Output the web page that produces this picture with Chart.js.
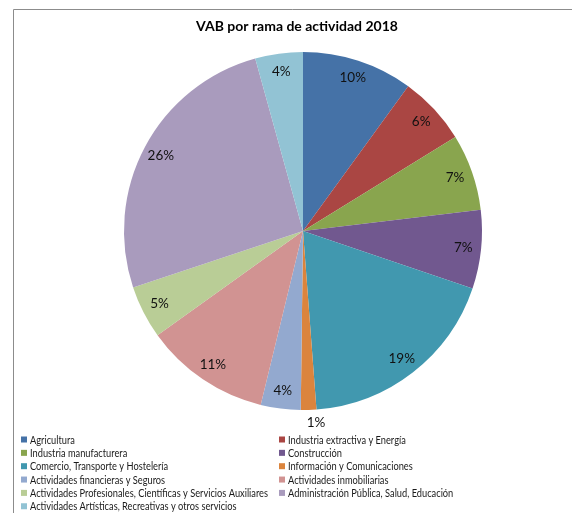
<!DOCTYPE html>
<html>
<head>
<meta charset="utf-8">
<script src="https://cdn.jsdelivr.net/npm/chart.js@4/dist/chart.umd.min.js"></script>
<style>
html,body{margin:0;padding:0;background:#fff;}
#wrap{width:572px;height:513px;position:relative;}
</style>
</head>
<body>
<div id="wrap"><canvas id="c" width="572" height="513"></canvas></div>
<script>
const title = 'VAB por rama de actividad 2018';
const categories = [
  'Agricultura',
  'Industria extractiva y Energía',
  'Industria manufacturera',
  'Construcción',
  'Comercio, Transporte y Hostelería',
  'Información y Comunicaciones',
  'Actividades financieras y Seguros',
  'Actividades inmobiliarias',
  'Actividades Profesionales, Científicas y Servicios Auxiliares',
  'Administración Pública, Salud, Educación',
  'Actividades Artísticas, Recreativas y otros servicios'
];
const shares = [10.0, 6.2, 6.9, 7.1, 18.6, 1.4, 3.6, 11.3, 4.8, 25.8, 4.3];
const colors = ['#4572A7','#AA4643','#89A54E','#71588F','#4198AF','#DB843D','#93A9CF','#D19392','#B9CD96','#A99BBD','#92C3D4'];

const FONT = 'Lato, "Open Sans", "Liberation Sans", sans-serif';

const decor = {
  id: 'decor',
  beforeDraw(chart) {
    const ctx = chart.ctx;
    ctx.save();
    ctx.fillStyle = '#fff';
    ctx.fillRect(0, 0, chart.width, chart.height);
    ctx.strokeStyle = '#8c8c8c';
    ctx.lineWidth = 1;
    ctx.beginPath();
    ctx.moveTo(13.5, chart.height);
    ctx.lineTo(13.5, 9.5);
    ctx.lineTo(chart.width, 9.5);
    ctx.stroke();
    ctx.restore();
  },
  afterDraw(chart) {
    const ctx = chart.ctx;
    ctx.save();
    // title
    ctx.fillStyle = '#000';
    ctx.font = 'bold 14px ' + FONT;
    ctx.textAlign = 'center';
    ctx.textBaseline = 'middle';
    ctx.fillText(title, 297, 26);
    // data labels
    const meta = chart.getDatasetMeta(0);
    const total = shares.reduce((a, b) => a + b, 0);
    ctx.font = '13.5px ' + FONT;
    meta.data.forEach((arc, i) => {
      const p = arc.getProps(['x','y','startAngle','endAngle','outerRadius'], true);
      const mid = (p.startAngle + p.endAngle) / 2;
      const pct = shares[i] / total * 100;
      const r = pct < 2 ? p.outerRadius + 13 : p.outerRadius * 0.9;
      const dx = pct < 2 ? 7 : 0;
      ctx.fillStyle = '#111';
      ctx.fillText(Math.round(pct) + '%', p.x + Math.cos(mid) * r + dx, p.y + Math.sin(mid) * r);
    });
    // legend in two columns
    ctx.font = '11px ' + FONT;
    ctx.textAlign = 'left';
    const widest = Math.max(...categories.map(n => ctx.measureText(n).width));
    const sx = Math.min(1, 238 / widest);
    categories.forEach((name, i) => {
      const col = i % 2, row = Math.floor(i / 2);
      const x = col === 0 ? 21 : 279;
      const y = 439.5 + row * 13.35;
      ctx.fillStyle = colors[i];
      ctx.fillRect(x, y - 3, 6, 6);
      ctx.fillStyle = '#1a1a1a';
      ctx.save();
      ctx.translate(x + 9, y + 0.5);
      ctx.scale(sx, 1);
      ctx.fillText(name, 0, 0);
      ctx.restore();
    });
    ctx.restore();
  }
};

new Chart(document.getElementById('c'), {
  type: 'pie',
  data: {
    labels: categories,
    datasets: [{
      data: shares,
      backgroundColor: colors,
      borderWidth: 0,
      hoverOffset: 0,
      offset: 0,
      radius: 179
    }]
  },
  options: {
    responsive: false,
    animation: false,
    layout: { padding: { left: 124, right: 90, top: 52, bottom: 103 } },
    plugins: {
      legend: { display: false },
      title: { display: false },
      tooltip: { enabled: false }
    }
  },
  plugins: [decor]
});
</script>
</body>
</html>
